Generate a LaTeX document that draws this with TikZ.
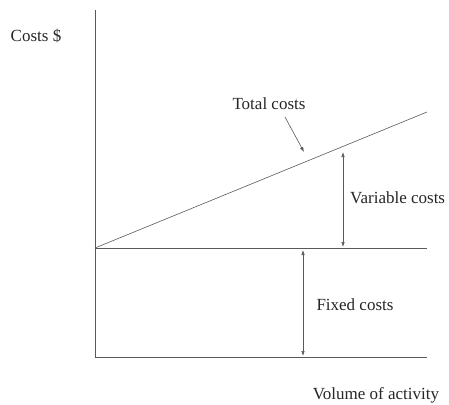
\documentclass[tikz,border=0pt]{standalone}
\usepackage{fontspec}
\setmainfont{Liberation Serif}
\usetikzlibrary{arrows.meta, positioning}

\tikzset{
  axisline/.style={line width=0.6pt, draw=black!65},
  dimarrow/.style={line width=0.6pt, draw=black!65, {Latex[length=5pt,width=3.5pt]}-{Latex[length=5pt,width=3.5pt]}},
  pointer/.style={line width=0.6pt, draw=black!65, -{Latex[length=5pt,width=3.5pt]}},
  lbl/.style={font=\fontsize{17}{20}\selectfont, text=black!85, inner sep=0pt}
}

\begin{document}
\begin{tikzpicture}[x=1pt, y=-1pt]
  \useasboundingbox (0,0) rectangle (449,404);
  % axes
  \coordinate (ytop) at (95,10);
  \coordinate (origin) at (95,357);
  \coordinate (xend) at (427,357);
  \draw[axisline] (ytop) -- (origin) -- (xend);
  % fixed and total cost lines
  \coordinate (fixstart) at (95,248);
  \coordinate (fixend) at (427,248);
  \coordinate (totend) at (427,112);
  \draw[axisline] (fixstart) -- (fixend);
  \draw[axisline] (fixstart) -- (totend);
  % labels
  \node[lbl] (costs) at (36,36) {Costs \$};
  \node[lbl] (total) at (269,104) {Total costs};
  \node[lbl, anchor=west] (variable) at (350,198) {Variable costs};
  \node[lbl] (fixed) at (355,305) {Fixed costs};
  \node[lbl] (volume) at (376,395) {Volume of activity};
  % arrows
  \coordinate (ptrtip) at (304,152);
  \draw[pointer] (285,117) -- (ptrtip);
  \coordinate (vartop) at (343,152);
  \coordinate (varbot) at (343,247);
  \draw[dimarrow] (vartop) -- (varbot);
  \coordinate (fixtop) at (303,250);
  \coordinate (fixbot) at (303,356);
  \draw[dimarrow] (fixtop) -- (fixbot);
\end{tikzpicture}
\end{document}
